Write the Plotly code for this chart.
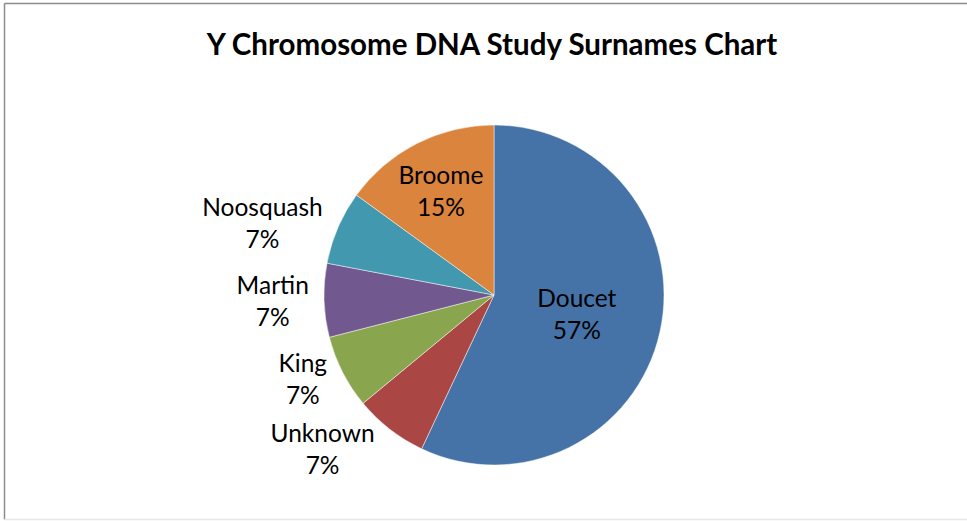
import plotly.graph_objects as go

labels = ["Doucet", "Unknown", "King", "Martin", "Noosquash", "Broome"]
values = [57, 7, 7, 7, 7, 15]
colors = ["#4572A7", "#AA4643", "#89A54E", "#71588F", "#4198AF", "#DB843D"]
positions = ["inside", "outside", "outside", "outside", "outside", "inside"]

W, H = 967, 521
cx, cy, r = 494, 295, 170

fig = go.Figure(go.Pie(
    labels=labels,
    values=values,
    sort=False,
    direction="clockwise",
    rotation=0,
    marker=dict(colors=colors, line=dict(color="rgba(255,255,255,0.6)", width=0.8)),
    texttemplate="%{label}<br>%{percent:.0%}",
    textposition=positions,
    insidetextorientation="horizontal",
    textfont=dict(family="Lato", size=24.5, color="black"),
    showlegend=False,
    hoverinfo="label+percent",
    domain=dict(x=[(cx - r) / W, (cx + r) / W], y=[(H - cy - r) / H, (H - cy + r) / H]),
))

border = "#8c8c8c"
fig.update_layout(
    width=W, height=H,
    margin=dict(l=0, r=0, t=0, b=0),
    paper_bgcolor="white",
    title=dict(text="<b>Y Chromosome DNA Study Surnames Chart</b>",
               x=492 / W, xanchor="center", y=1 - 45 / H, yanchor="middle",
               font=dict(family="Lato", size=29.5, color="black")),
    shapes=[
        dict(type="line", xref="paper", yref="paper", x0=4.5 / W, x1=1, y0=1 - 3.5 / H, y1=1 - 3.5 / H,
             line=dict(color=border, width=1.5)),
        dict(type="line", xref="paper", yref="paper", x0=4.5 / W, x1=4.5 / W, y0=1 - 519.5 / H, y1=1 - 3.5 / H,
             line=dict(color=border, width=1.5)),
        dict(type="line", xref="paper", yref="paper", x0=4.5 / W, x1=1, y0=1 - 519.5 / H, y1=1 - 519.5 / H,
             line=dict(color="#e6e6e6", width=1.5)),
    ],
)

fig.write_html("out.html", config={"displayModeBar": False},
               post_script="document.body.style.margin='0';document.body.style.overflow='hidden';")
